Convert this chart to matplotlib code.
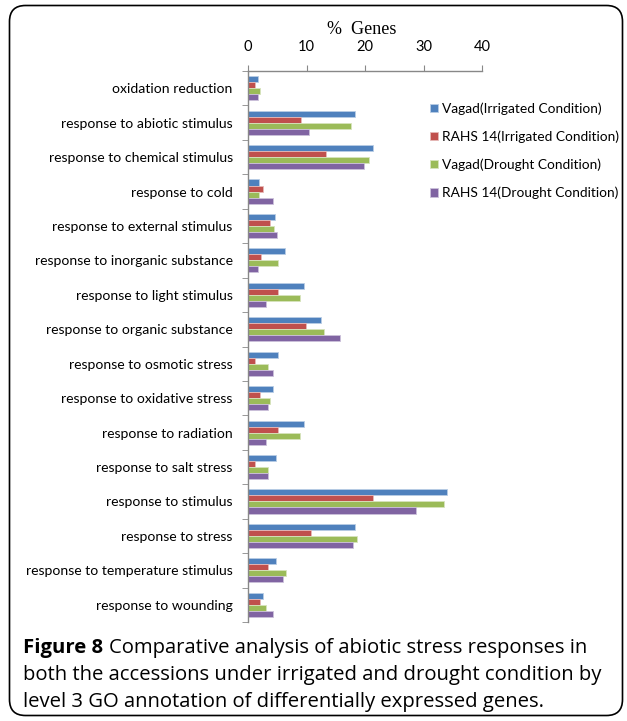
import matplotlib
matplotlib.use("Agg")
import matplotlib.pyplot as plt
import numpy as np
from matplotlib.patches import FancyBboxPatch
from matplotlib.transforms import IdentityTransform

categories = [
    "oxidation reduction",
    "response to abiotic stimulus",
    "response to chemical stimulus",
    "response to cold",
    "response to external stimulus",
    "response to inorganic substance",
    "response to light stimulus",
    "response to organic substance",
    "response to osmotic stress",
    "response to oxidative stress",
    "response to radiation",
    "response to salt stress",
    "response to stimulus",
    "response to stress",
    "response to temperature stimulus",
    "response to wounding",
]
series_names = [
    "Vagad(Irrigated Condition)",
    "RAHS 14(Irrigated Condition)",
    "Vagad(Drought Condition)",
    "RAHS 14(Drought Condition)",
]
vagad_irr = [1.7, 18.3, 21.3, 1.9, 4.7, 6.4, 9.6, 12.4, 5.1, 4.3, 9.6, 4.8, 34.0, 18.3, 4.8, 2.6]
rahs_irr = [1.25, 9.1, 13.3, 2.6, 3.8, 2.3, 5.2, 9.9, 1.25, 2.05, 5.2, 1.25, 21.4, 10.7, 3.4, 2.05]
vagad_dro = [2.0, 17.6, 20.7, 1.9, 4.4, 5.1, 8.9, 13.0, 3.4, 3.8, 8.9, 3.4, 33.5, 18.6, 6.5, 3.0]
rahs_dro = [1.7, 10.5, 19.9, 4.2, 4.9, 1.7, 3.1, 15.7, 4.2, 3.4, 3.0, 3.4, 28.8, 17.9, 5.9, 4.2]
xticks = [0, 10, 20, 30, 40]
colors = ["#4F81BD", "#C0504D", "#9BBB59", "#8064A2"]
edges = ["#B9CDE5", "#E6B9B8", "#D7E4BD", "#CCC1DA"]

W, H = 627, 721
fig = plt.figure(figsize=(W / 100, H / 100), dpi=100)
fig.patch.set_facecolor("white")

box = FancyBboxPatch((9.5, 5.5), 613, 710, boxstyle="round,pad=0,rounding_size=16",
                     transform=IdentityTransform(), facecolor="none", edgecolor="black",
                     linewidth=1.2)
fig.patches.append(box)

ax = fig.add_axes([248 / W, 1 - 622 / H, (482 - 248) / W, (622 - 71) / H])
y = np.arange(len(categories))
bh = 0.175
offs = [-1.5 * bh, -0.5 * bh, 0.5 * bh, 1.5 * bh]
for vals, c, e, o, name in zip([vagad_irr, rahs_irr, vagad_dro, rahs_dro], colors, edges, offs, series_names):
    ax.barh(y + o, vals, height=bh, color=c, edgecolor=e, linewidth=0.6, label=name)

ax.set_ylim(len(categories) - 0.5, -0.5)
ax.set_xlim(0, 40)
ax.xaxis.tick_top()
ax.set_xticks(xticks)
ax.set_xticklabels([str(t) for t in xticks], fontsize=10.5, family="Lato")
ax.tick_params(axis="x", direction="out", length=4, color="#888888", pad=8)
ax.set_yticks(y)
ax.set_yticklabels(categories, fontsize=10.1, family="Lato")
ax.tick_params(axis="y", length=0, pad=11)
ax.set_yticks(np.arange(-0.5, len(categories) + 0.5, 1), minor=True)
ax.tick_params(axis="y", which="minor", length=4, color="#888888", direction="out")
for s in ["bottom", "right"]:
    ax.spines[s].set_visible(False)
for s in ["top", "left"]:
    ax.spines[s].set_color("#888888")
    ax.spines[s].set_linewidth(1.0)

fig.text(362 / W, 1 - 30 / H, "%  Genes", ha="center", va="center", fontsize=13,
         family="Liberation Serif")

leg = ax.legend(loc="upper left", bbox_to_anchor=(430 / W, 1 - 102.5 / H),
                bbox_transform=fig.transFigure, frameon=False, fontsize=9.9,
                handlelength=0.55, handleheight=0.55, handletextpad=0.35,
                labelspacing=1.13, borderpad=0, borderaxespad=0)
for t in leg.get_texts():
    t.set_family("Lato")

# caption
fam = "Open Sans"
cap_fs = 14.0
lines = [
    "Comparative analysis of abiotic stress responses in",
    "both the accessions under irrigated and drought condition by",
    "level 3 GO annotation of differentially expressed genes.",
]
ys = [648, 675, 702]
probe = fig.text(23 / W, 1 - ys[1] / H, lines[1], fontsize=cap_fs, family=fam,
                 va="center", ha="left")
fig.canvas.draw()
r = fig.canvas.get_renderer()
end = probe.get_window_extent(r).x1
scale = (605 - 23) / (end - 23)
cap_fs2 = cap_fs * scale
probe.set_fontsize(cap_fs2)
t1 = fig.text(23 / W, 1 - ys[0] / H, "Figure 8", fontsize=cap_fs2, fontweight="bold",
              family=fam, va="center", ha="left")
fig.canvas.draw()
bb = t1.get_window_extent(r)
fig.text((bb.x1 + 6) / W, 1 - ys[0] / H, lines[0], fontsize=cap_fs2, family=fam,
         va="center", ha="left")
fig.text(23 / W, 1 - ys[2] / H, lines[2], fontsize=cap_fs2, family=fam, va="center", ha="left")

fig.savefig("out.png", dpi=100, facecolor="white")
